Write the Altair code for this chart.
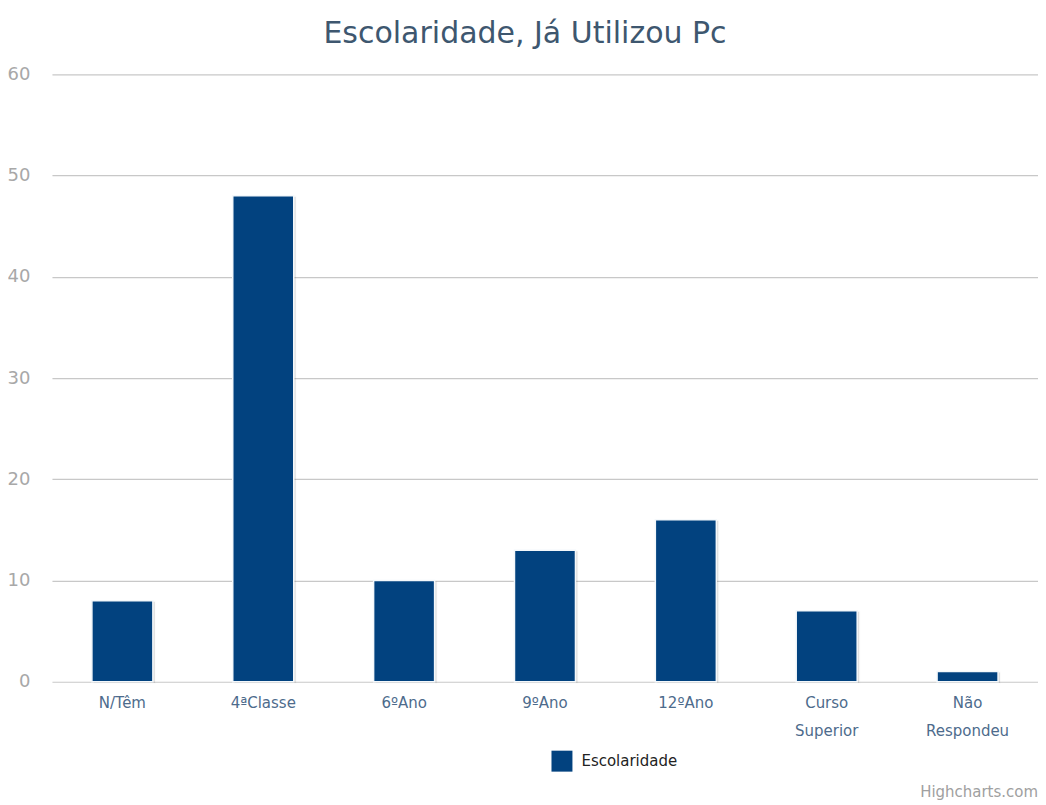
import altair as alt
import pandas as pd

categories = ["N/Têm", "4ªClasse", "6ºAno", "9ºAno", "12ºAno", "Curso Superior", "Não Respondeu"]
values = [8, 48, 10, 13, 16, 7, 1]
series_name = "Escolaridade"
y_ticks = [0, 10, 20, 30, 40, 50, 60]

df = pd.DataFrame({"cat": categories, "val": values, "serie": [series_name] * len(categories)})

FONT = "DejaVu Sans"
BAR = "#02427F"

x_enc = alt.X("cat:N", sort=categories, title=None,
              scale=alt.Scale(paddingInner=0.567, paddingOuter=0.2835),
              axis=alt.Axis(labelAngle=0, labelExpr="split(datum.value, ' ')",
                            labelColor="#4D6B8C", labelFontSize=15, labelFont=FONT,
                            labelLineHeight=28, labelPadding=14, ticks=False,
                            domain=False, grid=False))
y_enc = alt.Y("val:Q", title=None,
              scale=alt.Scale(domain=[0, 60], nice=False),
              axis=alt.Axis(values=y_ticks, labelColor="#A8A8A8", labelFontSize=18,
                            labelFont=FONT, labelPadding=22, ticks=False, domain=False,
                            gridColor="#C8C8C8", gridWidth=1.2))

shadow = alt.Chart(df).mark_bar(color="#000000", opacity=0.12, xOffset=2, yOffset=1,
                                stroke="#000000", strokeWidth=2, strokeOpacity=0.06).encode(
    x=x_enc, y=y_enc)

bars = alt.Chart(df).mark_bar(stroke="#F4F8FB", strokeWidth=1.5).encode(
    x=x_enc, y=y_enc,
    color=alt.Color("serie:N", scale=alt.Scale(range=[BAR]), title=None,
                    legend=alt.Legend(orient="none", legendX=500, legendY=677,
                                      symbolType="square", symbolSize=440,
                                      symbolStrokeWidth=0, labelFontSize=15,
                                      labelFont=FONT, labelColor="#222222",
                                      labelOffset=9)))

credit = alt.Chart(pd.DataFrame({"t": ["Highcharts.com"]})).mark_text(
    align="right", baseline="bottom", fontSize=15, font=FONT, color="#A0A0A0").encode(
    text="t:N", x=alt.value(987), y=alt.value(726))

chart = alt.layer(shadow, bars, credit).properties(
    width=987, height=608,
    title=alt.TitleParams("Escolaridade, Já Utilizou Pc", font=FONT, fontSize=30,
                          fontWeight="normal", color="#3E576F", anchor="middle",
                          dx=-20, offset=16),
    autosize=alt.AutoSizeParams(type="none"),
    padding={"left": 44, "top": 66, "right": 0, "bottom": 122},
).configure_view(stroke=None)

chart.save("out.html", embed_options={"renderer": "svg", "actions": False})
